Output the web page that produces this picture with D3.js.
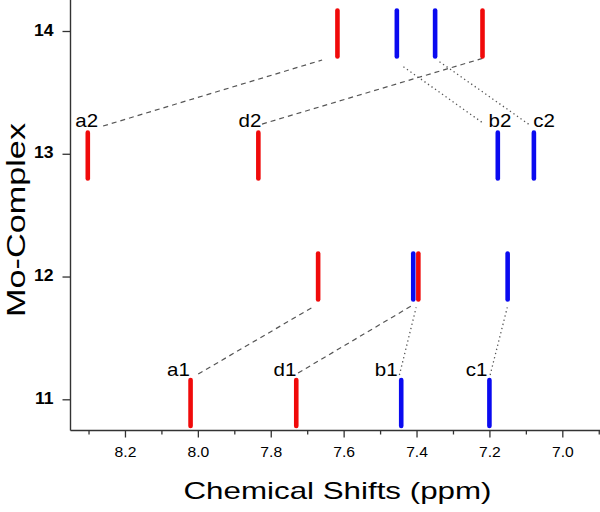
<!DOCTYPE html>
<html><head><meta charset="utf-8">
<script src="https://cdn.jsdelivr.net/npm/d3@7"></script>
<style>html,body{margin:0;padding:0;background:#fff;}svg{display:block;}</style>
</head><body>
<svg id="c" width="600" height="512"></svg>
<script>
// ---- data ----
const xMajorTicks = [8.2, 8.0, 7.8, 7.6, 7.4, 7.2, 7.0];
const xMinorTicks = [8.3, 8.1, 7.9, 7.7, 7.5, 7.3, 7.1, 6.9];
const yTicks = [11, 12, 13, 14];

const peakPpm = [7.617, 7.454, 7.349, 7.219,
                 8.302, 7.834, 7.177, 7.078,
                 7.670, 7.409, 7.395, 7.150,
                 8.020, 7.730, 7.442, 7.200];
const peakRow = [13.98, 13.98, 13.98, 13.98,
                 12.985, 12.985, 12.985, 12.985,
                 12.0, 12.0, 12.0, 12.0,
                 10.97, 10.97, 10.97, 10.97];
const peakKind = ["r","b","b","r", "r","r","b","b", "r","b","r","b", "r","r","b","b"];

const labelText = ["a2", "d2", "b2", "c2", "a1", "d1", "b1", "c1"];
const labelPpm = [8.305, 7.857, 7.171, 7.050, 8.053, 7.761, 7.483, 7.235];
const labelRow = [13.214, 13.214, 13.214, 13.214, 11.19, 11.19, 11.19, 11.19];

const linkX1 = [8.260, 7.824, 7.436, 7.337, 7.999, 7.725, 7.447, 7.198];
const linkY1 = [13.226, 13.242, 13.709, 13.750, 11.206, 11.214, 11.198, 11.198];
const linkX2 = [7.659, 7.218, 7.218, 7.089, 7.684, 7.410, 7.401, 7.151];
const linkY2 = [13.764, 13.778, 13.251, 13.234, 11.752, 11.768, 11.749, 11.749];
const linkKind = ["dash", "dash", "dot", "dot", "dash", "dash", "dot", "dot"];

// ---- drawing ----
const FONT = "'Liberation Sans', Arial, Helvetica, sans-serif";
const svg = d3.select("#c");
const x = d3.scaleLinear().domain([8.35, 6.89]).range([70.3, 602.4]);
const y = d3.scaleLinear().domain([11, 14]).range([399.3, 31]);
const x0 = 70.5, yBottom = 430.5;
const barHalf = 0.187;
const colors = {r: "#f00a0a", b: "#0a0af0"};

function stretch(sel, f) {
  sel.each(function () {
    const w = this.getComputedTextLength();
    this.setAttribute("textLength", w * f);
    this.setAttribute("lengthAdjust", "spacingAndGlyphs");
  });
}
function fitWidth(sel, target) {
  sel.attr("textLength", target).attr("lengthAdjust", "spacingAndGlyphs");
}

// links
const linkIdx = d3.range(linkX1.length);
svg.append("g").selectAll("line").data(linkIdx).join("line")
  .attr("x1", i => x(linkX1[i])).attr("y1", i => y(linkY1[i]))
  .attr("x2", i => x(linkX2[i])).attr("y2", i => y(linkY2[i]))
  .attr("stroke", "#555")
  .attr("stroke-width", i => linkKind[i] === "dash" ? 1.2 : 1.3)
  .attr("stroke-dasharray", i => linkKind[i] === "dash" ? "5,4" : "1.3,3");

// peaks
const peakIdx = d3.range(peakPpm.length);
svg.append("g").selectAll("line").data(peakIdx).join("line")
  .attr("x1", i => x(peakPpm[i])).attr("x2", i => x(peakPpm[i]))
  .attr("y1", i => y(peakRow[i] + barHalf)).attr("y2", i => y(peakRow[i] - barHalf))
  .attr("stroke", i => colors[peakKind[i]])
  .attr("stroke-width", 4.6)
  .attr("stroke-linecap", "round");

// labels
const lab = svg.append("g").selectAll("text").data(d3.range(labelText.length)).join("text")
  .attr("x", i => x(labelPpm[i])).attr("y", i => y(labelRow[i]))
  .attr("text-anchor", "middle")
  .attr("font-family", FONT).attr("font-size", 19).attr("fill", "#000")
  .text(i => labelText[i]);
stretch(lab, 1.08);

// x axis
const gx = svg.append("g").attr("transform", `translate(0,${yBottom})`);
gx.call(d3.axisBottom(x).tickValues(xMinorTicks).tickSize(4).tickFormat(""));
gx.call(g => g.append("g").call(d3.axisBottom(x).tickValues(xMajorTicks).tickSize(7).tickPadding(9.5)
  .tickFormat(d3.format(".1f"))));
gx.selectAll(".domain").remove();
gx.append("line").attr("x1", x0).attr("x2", 600).attr("stroke", "#333").attr("stroke-width", 1.4);
gx.selectAll(".tick line").attr("stroke", "#333").attr("stroke-width", 1.3);
const xt = gx.selectAll(".tick text").attr("font-family", FONT).attr("font-size", 14).attr("fill", "#000");
stretch(xt, 1.12);

// y axis
const gy = svg.append("g").attr("transform", `translate(${x0},0)`);
gy.call(d3.axisLeft(y).tickValues(yTicks).tickSize(8).tickPadding(9).tickFormat(d3.format("d")));
gy.select(".domain").remove();
gy.append("line").attr("y1", 0).attr("y2", yBottom).attr("stroke", "#333").attr("stroke-width", 1.4);
gy.selectAll(".tick line").attr("stroke", "#333").attr("stroke-width", 1.3);
const yt = gy.selectAll(".tick text").attr("font-family", FONT).attr("font-size", 16)
  .attr("font-weight", "bold").attr("fill", "#000").attr("dy", "0.25em");
stretch(yt, 1.1);

// axis titles
svg.append("text").attr("x", 337.5).attr("y", 499.3).attr("text-anchor", "middle")
  .attr("font-family", FONT).attr("font-size", 24).attr("fill", "#000")
  .text("Chemical Shifts (ppm)").call(fitWidth, 308);
svg.append("text").attr("transform", "translate(25,220) rotate(-90)").attr("text-anchor", "middle")
  .attr("font-family", FONT).attr("font-size", 25).attr("fill", "#000")
  .text("Mo-Complex").call(fitWidth, 194);
</script>
</body></html>
